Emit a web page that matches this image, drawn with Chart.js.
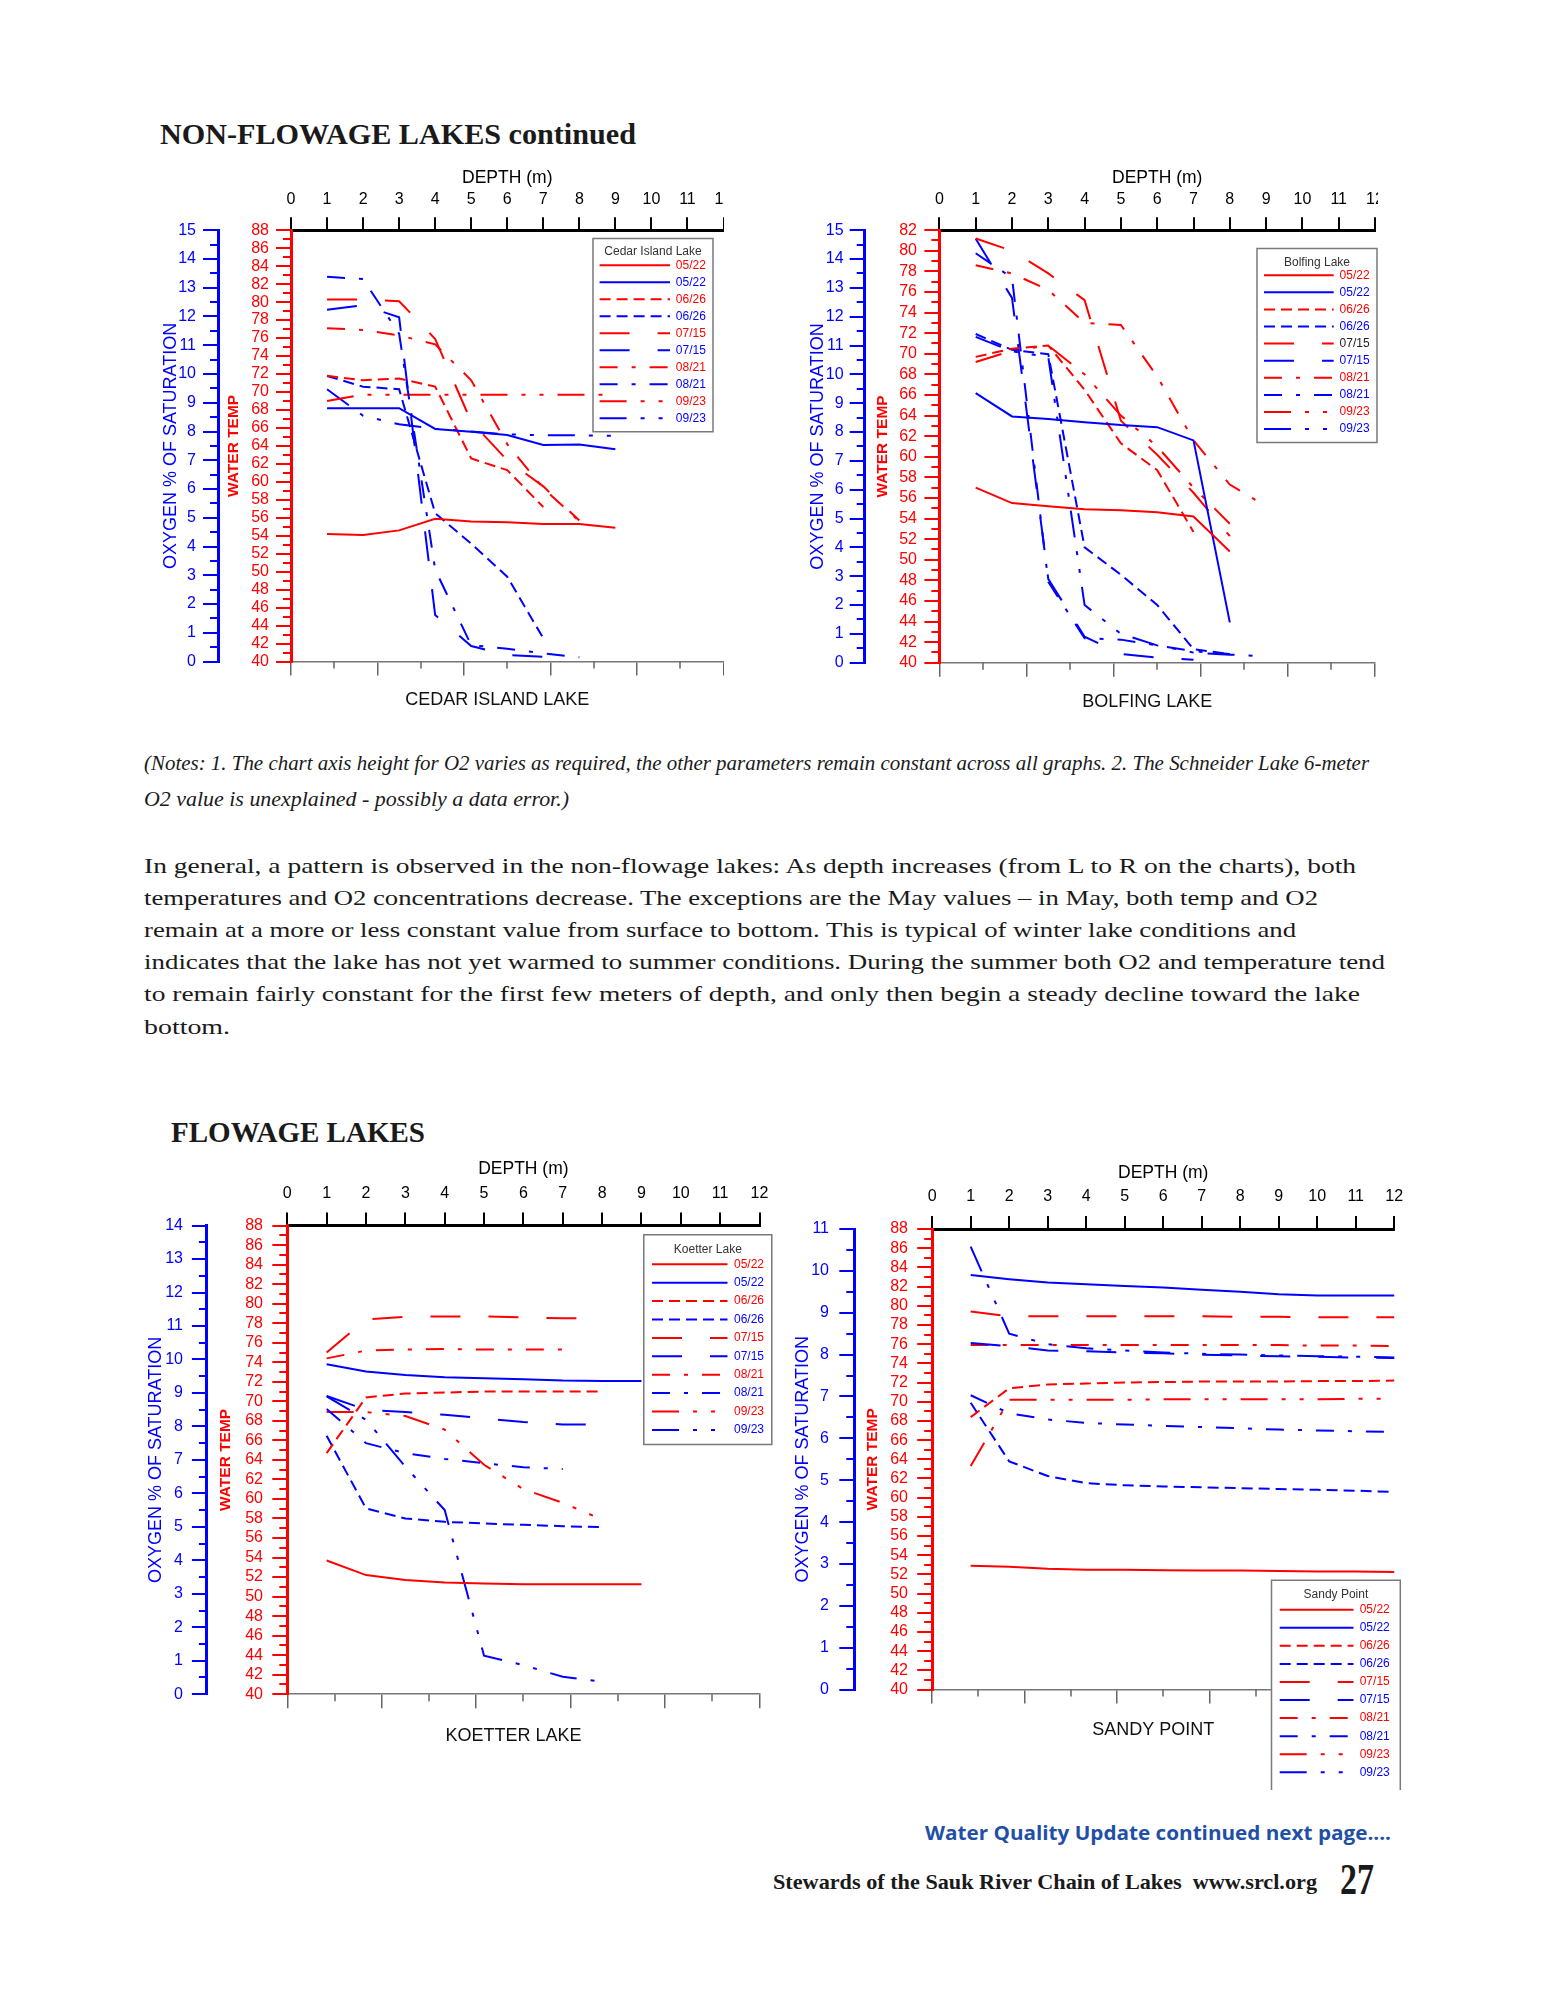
<!DOCTYPE html>
<html>
<head>
<meta charset="utf-8">
<script src="https://cdn.jsdelivr.net/npm/chart.js@4.4.1/dist/chart.umd.min.js"></script>
<style>
  html, body { margin: 0; padding: 0; background: #fff; }
  body { width: 1545px; height: 2000px; position: relative; overflow: hidden; }
  canvas { position: absolute; }
  .t { position: absolute; white-space: nowrap; line-height: 1; transform-origin: 0 50%; color: #1a1a1a; }
  .serif { font-family: "Liberation Serif", "Times New Roman", serif; }
  .sans { font-family: "Open Sans", "Liberation Sans", sans-serif; }
</style>
</head>
<body>

<div class="t serif" data-w="476" style="left:160px;top:134px;font-size:30px;font-weight:bold">NON-FLOWAGE LAKES continued</div>

<canvas id="cedar" width="584" height="560" style="left:140px;top:160px"></canvas>
<canvas id="bolfing" width="598" height="560" style="left:780px;top:160px"></canvas>

<div class="t serif" data-w="1225" style="left:144px;top:763px;font-size:21px;font-style:italic">(Notes: 1. The chart axis height for O2 varies as required, the other parameters remain constant across all graphs. 2. The Schneider Lake 6-meter</div>
<div class="t serif" data-w="425" style="left:144px;top:799px;font-size:21px;font-style:italic">O2 value is unexplained - possibly a data error.)</div>

<div class="t serif" data-w="1212" style="left:144px;top:866px;font-size:22px">In general, a pattern is observed in the non-flowage lakes: As depth increases (from L to R on the charts), both</div>
<div class="t serif" data-w="1174" style="left:144px;top:898px;font-size:22px">temperatures and O2 concentrations decrease. The exceptions are the May values – in May, both temp and O2</div>
<div class="t serif" data-w="1152" style="left:144px;top:930px;font-size:22px">remain at a more or less constant value from surface to bottom. This is typical of winter lake conditions and</div>
<div class="t serif" data-w="1241" style="left:144px;top:962px;font-size:22px">indicates that the lake has not yet warmed to summer conditions. During the summer both O2 and temperature tend</div>
<div class="t serif" data-w="1216" style="left:144px;top:994px;font-size:22px">to remain fairly constant for the first few meters of depth, and only then begin a steady decline toward the lake</div>
<div class="t serif" data-w="86" style="left:144px;top:1027px;font-size:22px">bottom.</div>

<div class="t serif" data-w="254" style="left:171px;top:1132px;font-size:29px;font-weight:bold">FLOWAGE LAKES</div>

<canvas id="koetter" width="640" height="620" style="left:140px;top:1140px"></canvas>
<canvas id="sandy" width="630" height="660" style="left:780px;top:1140px"></canvas>

<div class="t sans" data-w="466" style="left:925px;top:1833px;font-size:19px;font-weight:bold;color:#1f4fa6">Water Quality Update continued next page....</div>
<div class="t serif" data-w="544" style="left:773px;top:1882px;font-size:22px;font-weight:bold">Stewards of the Sauk River Chain of Lakes&nbsp; www.srcl.org</div>
<div class="t serif" data-w="34" style="left:1340px;top:1880px;font-size:44px;font-weight:bold">27</div>

<script>
// sampling dates, same order in every lake (row i of each table below)
const dates = ['05/22', '06/26', '07/15', '08/21', '09/23'];

// Cedar Island Lake
const cedarDepths = [1, 2, 3, 4, 5, 6, 7, 8, 9];
const cedarTemp = [
  [54.2, 54.1, 54.6, 55.9, 55.6, 55.5, 55.3, 55.3, 54.9],
  [71.8, 71.3, 71.5, 70.6, 62.6, 61.3, 57.2],
  [80.3, 80.3, 80.1, 75.9, 66.7, 62.4, 59.5, 55.7],
  [77.1, 76.9, 76.3, 75.3, 71.3, 64.2, 59.3, 55.6],
  [69.0, 69.7, 69.7, 69.7, 69.7, 69.7, 69.7, 69.7, 69.7]
];
const cedarO2 = [
  [8.81, 8.81, 8.81, 8.09, 7.99, 7.88, 7.53, 7.55, 7.38],
  [9.93, 9.56, 9.47, 5.16, 4.1, 2.95, 0.81],
  [12.23, 12.39, 11.97, 1.62, 0.54, 0.23, 0.17],
  [13.38, 13.3, 11.4, 3.2, 0.57, 0.45, 0.29, 0.15],
  [9.47, 8.55, 8.25, 8.1, 8.0, 7.9, 7.87, 7.87, 7.85]
];

// Bolfing Lake
const bolfingDepths = [1, 2, 3, 4, 5, 6, 7, 8, 9];
const bolfingTemp = [
  [57.0, 55.5, 55.2, 54.9, 54.8, 54.6, 54.2, 50.8],
  [69.7, 70.5, 70.8, 66.5, 61.3, 58.7, 52.7],
  [81.2, 80.0, 77.8, 75.2, 63.5, 60.2, 56.5, 52.3],
  [78.6, 77.8, 76.2, 73.0, 72.8, 67.8, 61.6, 57.3, 55.2],
  [69.2, 70.3, 70.8, 68.0, 64.0, 61.0, 57.0, 53.5]
];
const bolfingO2 = [
  [9.35, 8.54, 8.45, 8.34, 8.24, 8.17, 7.71, 1.4],
  [11.4, 10.85, 10.7, 4.0, 3.05, 2.0, 0.47, 0.3],
  [14.7, 12.65, 2.9, 0.9, 0.3, 0.18, 0.1],
  [14.2, 13.35, 2.8, 0.85, 0.8, 0.6, 0.4, 0.3],
  [11.3, 10.8, 10.6, 2.0, 1.0, 0.6, 0.35, 0.28, 0.22]
];

// Koetter Lake
const koetterDepths = [1, 2, 3, 4, 5, 6, 7, 8, 9];
const koetterTemp = [
  [53.7, 52.2, 51.7, 51.45, 51.35, 51.25, 51.25, 51.25, 51.25],
  [64.7, 70.4, 70.8, 70.9, 71.0, 71.0, 71.0, 71.0],
  [75.0, 78.4, 78.65, 78.7, 78.7, 78.6, 78.5, 78.5],
  [74.4, 75.2, 75.3, 75.35, 75.3, 75.3, 75.3],
  [68.9, 68.9, 68.5, 67.1, 63.5, 61.0, 59.6, 57.9]
];
const koetterO2 = [
  [9.86, 9.64, 9.54, 9.47, 9.44, 9.41, 9.37, 9.36, 9.36],
  [7.72, 5.55, 5.25, 5.15, 5.1, 5.06, 5.02, 4.99],
  [8.91, 8.5, 8.43, 8.35, 8.24, 8.13, 8.06, 8.05],
  [8.52, 7.5, 7.2, 7.03, 6.9, 6.78, 6.73],
  [8.9, 8.2, 6.8, 5.5, 1.15, 0.87, 0.52, 0.37]
];

// Sandy Point (a few lines run a little past 12 m)
const sandyDepths = [1, 2, 3, 4, 5, 6, 7, 8, 9, 10, 11, 12, 12.35];
const sandyTemp = [
  [52.9, 52.8, 52.6, 52.5, 52.5, 52.45, 52.4, 52.4, 52.35, 52.3, 52.3, 52.25],
  [68.4, 71.4, 71.8, 71.9, 72.0, 72.05, 72.1, 72.1, 72.1, 72.15, 72.15, 72.2],
  [79.4, 78.9, 78.9, 78.9, 78.9, 78.9, 78.9, 78.85, 78.85, 78.8, 78.8, 78.8, 78.8],
  [75.9, 75.9, 75.9, 75.9, 75.9, 75.9, 75.9, 75.9, 75.9, 75.85, 75.85, 75.8, 75.8],
  [63.3, 70.2, 70.2, 70.2, 70.2, 70.25, 70.25, 70.25, 70.25, 70.25, 70.3, 70.3, 70.3]
];
const sandyO2 = [
  [9.9, 9.8, 9.72, 9.68, 9.64, 9.6, 9.55, 9.5, 9.44, 9.41, 9.41, 9.41],
  [6.85, 5.45, 5.1, 4.93, 4.88, 4.85, 4.83, 4.81, 4.79, 4.77, 4.75, 4.72],
  [8.28, 8.2, 8.1, 8.08, 8.05, 8.03, 8.0, 7.98, 7.96, 7.95, 7.93, 7.92, 7.9],
  [7.03, 6.6, 6.45, 6.37, 6.33, 6.3, 6.27, 6.24, 6.21, 6.19, 6.17, 6.15],
  [10.58, 8.5, 8.25, 8.15, 8.1, 8.05, 8.02, 8.0, 7.98, 7.96, 7.95, 7.93]
];

// ---- drawing ----
Chart.defaults.font.family = '"Liberation Sans", Arial, Helvetica, sans-serif';

const RED = '#ff0000', BLUE = '#0000ff';
const DASH = [[], [11, 6], [30, 28], [18, 14, 4, 14], [27, 14, 4, 14, 4, 14]];
const TICK_FONT = 16;
const TICK_HALF = TICK_FONT * 1.2 / 2;
// the lake names sit a little left of the plot centre in the original
const NAME_PAD = '\u00a0\u00a0\u00a0\u00a0';

// page positions of each chart (pixels in the 1545x2000 page)
const cedarLayout = {
  canvas: [140, 160], area: [291, 230.2, 723.5, 661.6],
  o2Line: 218, o2TitleX: 171, tTitleX: 234, o2Lab: 196, tLab: 269,
  depthY: 178.5, labY: 200, nameY: 700, o2Max: 15, tMax: 88,
  legend: { box: [593, 238.4, 713, 431.7], titleY: 252, row0: 265.2, dy: 17, line: [599.6, 670], textX: 675.8 }
};
const bolfingLayout = {
  canvas: [780, 160], area: [939.4, 230.2, 1375, 662.7],
  o2Line: 864.7, o2TitleX: 818, tTitleX: 882.5, o2Lab: 843.6, tLab: 917,
  depthY: 178.5, labY: 200, nameY: 701.9, o2Max: 15, tMax: 82,
  legend: { box: [1257, 248.4, 1377, 442.4], titleY: 262.7, row0: 275.2, dy: 17.1, line: [1264, 1333.7], textX: 1339.6 },
  labelColors: { 4: '#222' }
};
const koetterLayout = {
  canvas: [140, 1140], area: [287.3, 1225.6, 759.5, 1694.2],
  o2Line: 206.9, o2TitleX: 156, tTitleX: 226, o2Lab: 183, tLab: 263,
  depthY: 1169.6, labY: 1193.3, nameY: 1735.7, o2Max: 14, tMax: 88,
  legend: { box: [643.8, 1234.7, 771.8, 1444.5], titleY: 1249.7, row0: 1264.3, dy: 18.4, line: [652, 727.5], textX: 734 }
};
const sandyLayout = {
  canvas: [780, 1140], area: [932.2, 1229, 1394.2, 1689.6],
  o2Line: 854.3, o2TitleX: 803.4, tTitleX: 872.3, o2Lab: 829, tLab: 908,
  depthY: 1173.6, labY: 1196.7, nameY: 1730.3, o2Max: 11, tMax: 88,
  legend: { box: [1271.5, 1580.3, 1400.3, 1790], titleY: 1595, row0: 1609.7, dy: 18.07, line: [1279.7, 1353.5], textX: 1359.7, open: true }
};

function lineSet(label, depths, vals, color, axis, i) {
  return {
    label,
    data: vals.map((v, j) => ({ x: depths[j], y: v })),
    xAxisID: 'x', yAxisID: axis,
    borderColor: color, backgroundColor: color,
    borderWidth: 2, borderDash: DASH[i],
    pointRadius: 0, tension: 0, fill: false, clip: false
  };
}

function buildDatasets(depths, temp, o2) {
  const out = [];
  dates.forEach((d, i) => {
    out.push(lineSet(d, depths, temp[i], RED, 'yT', i));
    out.push(lineSet(d, depths, o2[i], BLUE, 'yO', i));
  });
  return out;
}

// minor ticks + boxed legend, drawn before the lines so they pass over the box
const deco = {
  id: 'deco',
  beforeDatasetsDraw(chart, args, o) {
    const { ctx, chartArea: a, scales } = chart;
    const { yT, yO, x2 } = scales;
    ctx.save();
    ctx.setLineDash([]);
    ctx.lineWidth = 2;

    ctx.strokeStyle = RED;
    ctx.beginPath();
    for (let v = yT.min + 1; v < yT.max; v += 2) {
      const y = Math.round(yT.getPixelForValue(v));
      ctx.moveTo(a.left - 8, y); ctx.lineTo(a.left, y);
    }
    ctx.stroke();

    ctx.strokeStyle = BLUE;
    ctx.beginPath();
    for (let v = 0.5; v < yO.max; v += 1) {
      const y = Math.round(yO.getPixelForValue(v));
      ctx.moveTo(yO.right - 8, y); ctx.lineTo(yO.right, y);
    }
    ctx.stroke();

    ctx.strokeStyle = '#666';
    ctx.lineWidth = 1.5;
    ctx.beginPath();
    for (let v = 1; v < x2.max; v += 2) {
      const x = Math.round(x2.getPixelForValue(v));
      ctx.moveTo(x, a.bottom); ctx.lineTo(x, a.bottom + 7);
    }
    ctx.stroke();

    const lg = o.legend, ox = o.ox, oy = o.oy;
    const bx0 = lg.box[0] - ox, by0 = lg.box[1] - oy, bx1 = lg.box[2] - ox, by1 = lg.box[3] - oy;
    ctx.fillStyle = '#fff';
    ctx.fillRect(bx0, by0, bx1 - bx0, by1 - by0);
    ctx.strokeStyle = '#7a7a7a';
    ctx.lineWidth = 1.5;
    ctx.beginPath();
    if (lg.open) {
      ctx.moveTo(bx0, by1); ctx.lineTo(bx0, by0); ctx.lineTo(bx1, by0); ctx.lineTo(bx1, by1);
    } else {
      ctx.rect(bx0, by0, bx1 - bx0, by1 - by0);
    }
    ctx.stroke();

    ctx.font = '12px "Liberation Sans", Arial, sans-serif';
    ctx.textBaseline = 'middle';
    ctx.textAlign = 'center';
    ctx.fillStyle = '#333';
    ctx.fillText(o.title, (bx0 + bx1) / 2, lg.titleY - oy);

    chart.data.datasets.forEach((ds, i) => {
      const y = lg.row0 - oy + i * lg.dy;
      ctx.strokeStyle = ds.borderColor;
      ctx.lineWidth = 2;
      ctx.setLineDash(ds.borderDash);
      ctx.beginPath();
      ctx.moveTo(lg.line[0] - ox, y); ctx.lineTo(lg.line[1] - ox, y);
      ctx.stroke();
      ctx.setLineDash([]);
      ctx.textAlign = 'left';
      ctx.fillStyle = (o.labelColors && o.labelColors[i]) || ds.borderColor;
      ctx.fillText(ds.label, lg.textX - ox, y);
    });
    ctx.restore();
  }
};

function fixSize(w, h) {
  return s => {
    if (w != null) s.width = w;
    if (h != null) s.height = h;
    s.paddingLeft = 0; s.paddingRight = 0; s.paddingTop = 0; s.paddingBottom = 0;
  };
}

function makeChart(id, legendTitle, axisName, depths, temp, o2, L) {
  const cv = document.getElementById(id);
  const W = cv.width, H = cv.height;
  const ox = L.canvas[0], oy = L.canvas[1];
  const aL = L.area[0] - ox, aT = L.area[1] - oy, aR = L.area[2] - ox, aB = L.area[3] - oy;
  const o2x = L.o2Line - ox;
  const PADL = 4;

  return new Chart(cv, {
    type: 'line',
    data: { datasets: buildDatasets(depths, temp, o2) },
    plugins: [deco],
    options: {
      responsive: false,
      animation: false,
      devicePixelRatio: 1,
      events: [],
      layout: { padding: { left: PADL, top: 0, right: W - aR, bottom: 0 } },
      plugins: {
        legend: { display: false },
        tooltip: { enabled: false },
        deco: { legend: L.legend, title: legendTitle, ox, oy, labelColors: L.labelColors }
      },
      scales: {
        x: {
          type: 'linear', position: 'top', min: 0, max: 12,
          ticks: { stepSize: 1, autoSkip: false, maxRotation: 0, color: '#000', font: { size: TICK_FONT },
                   padding: aT - 13 - TICK_HALF - (L.labY - oy) },
          grid: { drawOnChartArea: false, color: '#000', lineWidth: 2, tickLength: 13 },
          border: { color: '#000', width: 3 },
          title: { display: true, text: 'DEPTH (m)', color: '#000', font: { size: 17.5 },
                   padding: { top: L.depthY - oy - 10.5, bottom: 0 } },
          afterFit: fixSize(null, aT)
        },
        x2: {
          type: 'linear', position: 'bottom', min: 0, max: 10,
          ticks: { stepSize: 2, autoSkip: false, callback: () => '' },
          grid: { drawOnChartArea: false, color: '#666', lineWidth: 1.5, tickLength: 14 },
          border: { color: '#777', width: 1.5 },
          title: { display: true, text: axisName + NAME_PAD, color: '#111', font: { size: 18 },
                   padding: { top: 0, bottom: H - (L.nameY - oy) - 10.8 } },
          afterFit: fixSize(null, H - aB)
        },
        yT: {
          type: 'linear', position: 'left', weight: 0, min: 40, max: L.tMax,
          ticks: { stepSize: 2, autoSkip: false, color: RED, font: { size: TICK_FONT },
                   padding: aL - 15 - (L.tLab - ox) },
          grid: { drawOnChartArea: false, color: RED, lineWidth: 2, tickLength: 15 },
          border: { color: RED, width: 3 },
          title: { display: true, text: 'WATER TEMP', color: RED, font: { size: 15.5, weight: 'bold' },
                   padding: { top: L.tTitleX - L.o2Line - 9.3, bottom: 0 } },
          afterFit: fixSize(aL - o2x, null)
        },
        yO: {
          type: 'linear', position: 'left', weight: 1, min: 0, max: L.o2Max,
          ticks: { stepSize: 1, autoSkip: false, color: BLUE, font: { size: TICK_FONT },
                   padding: o2x - 15 - (L.o2Lab - ox) },
          grid: { drawOnChartArea: false, color: BLUE, lineWidth: 2, tickLength: 15 },
          border: { color: BLUE, width: 3 },
          title: { display: true, text: 'OXYGEN % OF SATURATION', color: BLUE, font: { size: 18 },
                   padding: { top: L.o2TitleX - ox - PADL - 10.8, bottom: 0 } },
          afterFit: fixSize(o2x - PADL, null)
        }
      }
    }
  });
}

makeChart('cedar', 'Cedar Island Lake', 'CEDAR ISLAND LAKE', cedarDepths, cedarTemp, cedarO2, cedarLayout);
makeChart('bolfing', 'Bolfing Lake', 'BOLFING LAKE', bolfingDepths, bolfingTemp, bolfingO2, bolfingLayout);
makeChart('koetter', 'Koetter Lake', 'KOETTER LAKE', koetterDepths, koetterTemp, koetterO2, koetterLayout);
makeChart('sandy', 'Sandy Point', 'SANDY POINT', sandyDepths, sandyTemp, sandyO2, sandyLayout);

// squeeze each text line to the width it has on the page
document.querySelectorAll('.t').forEach(el => {
  const want = parseFloat(el.dataset.w);
  const have = el.getBoundingClientRect().width;
  const k = have ? want / have : 1;
  el.style.transform = 'translateY(-50%) scaleX(' + k.toFixed(4) + ')';
});
</script>
</body>
</html>
